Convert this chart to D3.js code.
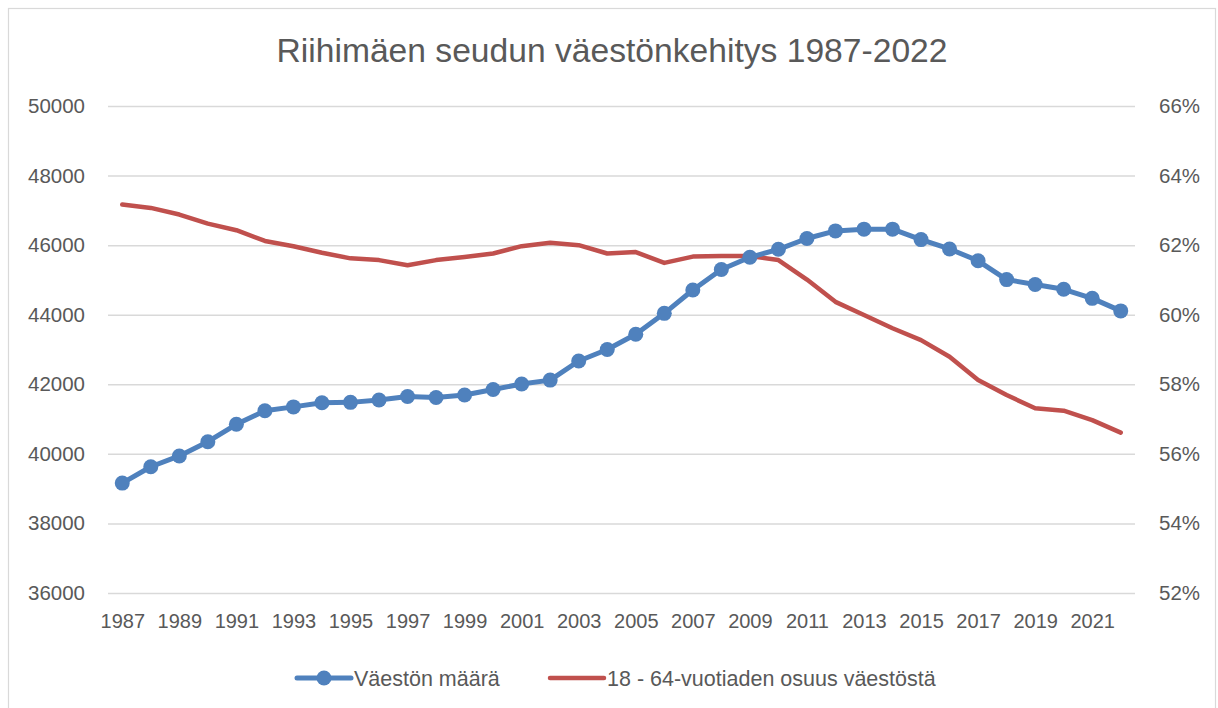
<!DOCTYPE html>
<html>
<head>
<meta charset="utf-8">
<script src="https://cdn.jsdelivr.net/npm/d3@7"></script>
<style>
  html, body { margin: 0; padding: 0; background: #fff; }
  svg { display: block; }
  text { font-family: "Liberation Sans", Arial, sans-serif; fill: #595959; }
</style>
</head>
<body>
<svg id="chart" width="1218" height="708"></svg>
<script>
const years = d3.range(1987, 2023);
const population = [
  39160, 39630, 39940, 40350, 40850, 41240, 41350, 41470, 41480, 41550,
  41650, 41620, 41690, 41850, 42010, 42120, 42670, 43000, 43440, 44040,
  44710, 45300, 45650, 45880, 46190, 46410, 46460, 46460, 46160, 45890,
  45550, 45010, 44870, 44730, 44470, 44110
];
const workingAgeShare = [
  63.17, 63.07, 62.88, 62.62, 62.43, 62.12, 61.97, 61.78, 61.62, 61.57,
  61.42, 61.57, 61.66, 61.76, 61.97, 62.07, 62.00, 61.76, 61.80, 61.49,
  61.67, 61.69, 61.69, 61.57, 61.01, 60.37, 59.99, 59.61, 59.27, 58.79,
  58.12, 57.69, 57.31, 57.24, 56.97, 56.61
];
const leftTicks = [36000, 38000, 40000, 42000, 44000, 46000, 48000, 50000];
const rightTicks = [52, 54, 56, 58, 60, 62, 64, 66];
const xTickLabels = years.filter(y => (y - 1987) % 2 === 0);
const title = "Riihimäen seudun väestönkehitys 1987-2022";
const seriesNames = ["Väestön määrä", "18 - 64-vuotiaden osuus väestöstä"];

const blue = "#4F81BD", red = "#C0504D", grid = "#D9D9D9", textCol = "#595959";

const svg = d3.select("#chart");
const plot = { left: 108, right: 1135, top: 106, bottom: 593 };

// outer border
svg.append("rect")
  .attr("x", 8.5).attr("y", 8.5)
  .attr("width", 1207).attr("height", 720)
  .attr("fill", "#fff").attr("stroke", grid).attr("stroke-width", 1.2);

const x = d3.scalePoint().domain(years).range([plot.left, plot.right]).padding(0.5);
const yL = d3.scaleLinear().domain([36000, 50000]).range([plot.bottom, plot.top]);
const yR = d3.scaleLinear().domain([52, 66]).range([plot.bottom, plot.top]);

// title
svg.append("text")
  .attr("x", 612).attr("y", 62)
  .attr("text-anchor", "middle")
  .attr("font-size", 33)
  .attr("textLength", 671).attr("lengthAdjust", "spacingAndGlyphs")
  .text(title);

// gridlines + left axis
const gL = svg.append("g").attr("transform", `translate(${plot.left},0)`)
  .call(d3.axisLeft(yL).tickValues(leftTicks).tickFormat(d3.format("d"))
    .tickSize(-(plot.right - plot.left)).tickPadding(23));
gL.select(".domain").remove();
gL.selectAll("line").attr("stroke", grid).attr("stroke-width", 1.5);
gL.selectAll("text").attr("font-size", 20.5).attr("fill", textCol)
  .style("font-family", "'Liberation Sans', Arial, sans-serif");

// right axis
const gR = svg.append("g").attr("transform", `translate(${plot.right},0)`)
  .call(d3.axisRight(yR).tickValues(rightTicks).tickFormat(d => d + "%")
    .tickSize(0).tickPadding(24));
gR.select(".domain").remove();
gR.selectAll("text").attr("font-size", 20.5).attr("fill", textCol)
  .style("font-family", "'Liberation Sans', Arial, sans-serif");

// x axis
const gX = svg.append("g").attr("transform", `translate(0,${plot.bottom})`)
  .call(d3.axisBottom(x).tickValues(xTickLabels).tickSize(0).tickPadding(21));
gX.select(".domain").remove();
gX.selectAll("text").attr("font-size", 20).attr("fill", textCol)
  .style("font-family", "'Liberation Sans', Arial, sans-serif");

// red line (right axis)
const lineR = d3.line().x((d, i) => x(years[i])).y(d => yR(d));
svg.append("path").datum(workingAgeShare)
  .attr("d", lineR).attr("fill", "none")
  .attr("stroke", red).attr("stroke-width", 4.5)
  .attr("stroke-linejoin", "round").attr("stroke-linecap", "round");

// blue line (left axis)
const lineL = d3.line().x((d, i) => x(years[i])).y(d => yL(d));
svg.append("path").datum(population)
  .attr("d", lineL).attr("fill", "none")
  .attr("stroke", blue).attr("stroke-width", 5)
  .attr("stroke-linejoin", "round").attr("stroke-linecap", "round");
svg.append("g").selectAll("circle").data(population).join("circle")
  .attr("cx", (d, i) => x(years[i])).attr("cy", d => yL(d))
  .attr("r", 7.5).attr("fill", blue);

// legend
const legY = 678;
const leg = svg.append("g");
leg.append("line").attr("x1", 297).attr("x2", 351).attr("y1", legY).attr("y2", legY)
  .attr("stroke", blue).attr("stroke-width", 5).attr("stroke-linecap", "round");
leg.append("circle").attr("cx", 324).attr("cy", legY).attr("r", 7.5).attr("fill", blue);
leg.append("text").attr("x", 354).attr("y", legY + 7.5).attr("font-size", 21.5).text(seriesNames[0]);
leg.append("line").attr("x1", 550).attr("x2", 604).attr("y1", legY).attr("y2", legY)
  .attr("stroke", red).attr("stroke-width", 4.5).attr("stroke-linecap", "round");
leg.append("text").attr("x", 607).attr("y", legY + 7.5).attr("font-size", 21.5).text(seriesNames[1]);
</script>
</body>
</html>
